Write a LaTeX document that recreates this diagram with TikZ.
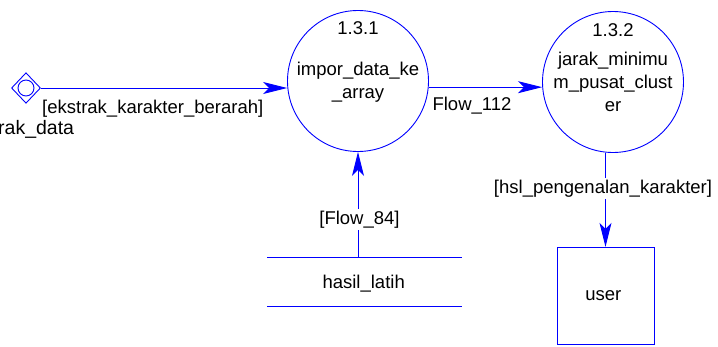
\documentclass[tikz,border=0pt]{standalone}
\usepackage{fontspec}
\setmainfont{Liberation Sans}
\usetikzlibrary{arrows.meta,shapes.geometric}
\begin{document}
\begin{tikzpicture}[x=1pt,y=-1pt,
  font=\fontsize{18.5}{22}\selectfont,
  ln/.style={blue, line width=0.9pt},
  proc/.style={ln, draw, circle, minimum size=141pt, inner sep=0pt},
  flow/.style={ln, -{Stealth[length=24pt,width=12pt,inset=6pt]}},
  txt/.style={inner sep=0pt, anchor=base, text=black},
  lbl/.style={txt, fill=white, inner sep=2pt},
]
\useasboundingbox (0,0) rectangle (718,346);

% processes
\node[proc] (p1) at (358,81) {};
\node[txt] (p1n) at (358,34.3) {1.3.1};
\node[txt] (p1a) at (358,75.5) {impor\_data\_ke};
\node[txt] (p1b) at (358,98.3) {\_array};

\node[proc] (p2) at (613,82) {};
\node[txt] (p2n) at (613,36.7) {1.3.2};
\node[txt] (p2a) at (613,65.7) {jarak\_minimu};
\node[txt] (p2b) at (613,88.3) {m\_pusat\_clust};
\node[txt] (p2c) at (613,111.7) {er};

% source (diamond with inner circle); its name runs off the left edge
\node[ln, draw, diamond, minimum width=29pt, minimum height=30.6pt, inner sep=0pt] (d) at (26,88) {};
\node[ln, draw, circle, minimum size=16pt, inner sep=0pt] (dc) at (d.center) {};
\node[txt, anchor=base west, font=\fontsize{19.5}{23}\selectfont] (dn) at (-2,134.5) {rak\_data};

% data store
\node[inner sep=0pt, minimum width=194.4pt, minimum height=49pt] (s) at (364.5,282.2) {};
\draw[ln] (s.north west) -- (s.north east) (s.south west) -- (s.south east);
\node[txt] (sn) at (363.7,288.3) {hasil\_latih};

% external entity
\node[ln, draw, rectangle, minimum width=97pt, minimum height=97pt, inner sep=0pt] (u) at (605.5,295.8) {};
\node[txt] (un) at (603.3,300) {user};

% flows
\draw[flow] (d.east) -- (d.east -| p1.west);
\node[txt, anchor=base west] (f1) at (42,113) {[ekstrak\_karakter\_berarah]};

\draw[flow] (p1.-5) -- (p1.-5 -| p2.west);
\node[txt] (f2) at (472,110) {Flow\_112};

\draw[flow] (p1.south |- s.north) -- (p1.south);
\node[lbl] (f3) at (359.5,224) {[Flow\_84]};

\draw[flow] (u.north |- p2.south) -- (u.north);
\node[lbl] (f4) at (603,193.3) {[hsl\_pengenalan\_karakter]};
\end{tikzpicture}
\end{document}
